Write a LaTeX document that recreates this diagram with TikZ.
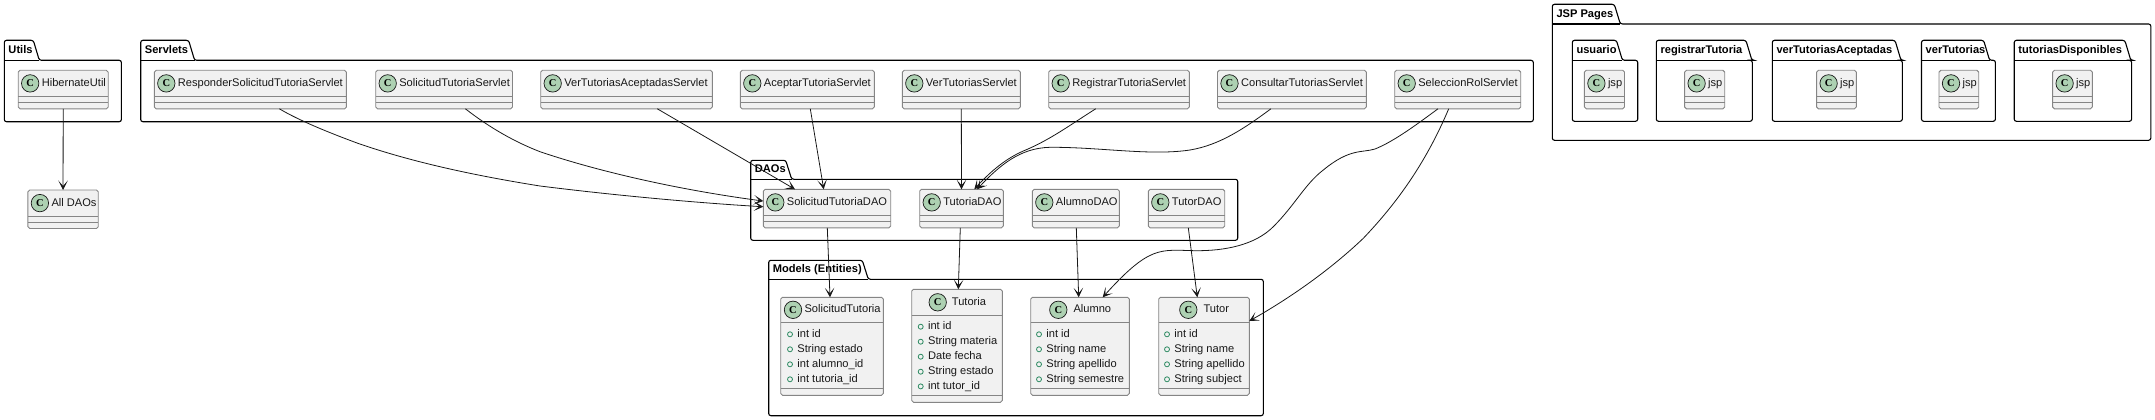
\documentclass[tikz,border=0pt]{standalone}
\usepackage{fontspec}
\setmainfont{Liberation Sans}
\newfontfamily\spotfont{Liberation Serif}
\usetikzlibrary{arrows.meta,positioning}

\definecolor{classfill}{HTML}{F1F1F1}
\definecolor{classline}{HTML}{858585}
\definecolor{spotfill}{HTML}{ADD1B2}
\definecolor{inkline}{HTML}{181818}
\definecolor{markline}{HTML}{2E8B63}

% id, left, right, top, header bottom, bottom, spot x, title x, title
\newcommand{\umlclass}[9]{
\node[class node, minimum width={(#3-#2)*1pt}, minimum height={(#6-#4)*1pt}] (#1) at ({(#2+#3)/2},{(#4+#6)/2}) {};
\draw[class line] (#2,#5) -- (#3,#5);
\draw[class line] (#2,{#6-6.5}) -- (#3,{#6-6.5});
\node[spot node] (#1 spot) at (#7,{(#4+#5)/2}) {C};
\node[title node] (#1 title) at (#8,{(#4+#5)/2}) {#9};
}
% id, left, right, top, title
\newcommand{\plainclass}[5]{\umlclass{#1}{#2}{#3}{#4}{#4+26.2}{#4+38.5}{#2+12}{#2+23.4}{#5}}
% id, mark x, y, text
\newcommand{\classmember}[4]{
\node[mark node] (#1 mark) at (#2,#3) {};
\node[member node, right=4.3pt of #1 mark] (#1) {#4};
}
% id, left, right, tab right, top, body top, bottom, title
\newcommand{\umlpackage}[8]{
\draw[package line] (#2,#6) -- (#2,#5) -- ({#4-6},#5) -- (#4,#6) -- (#3,#6) -- (#3,#7) -- (#2,#7) -- cycle;
\draw[package line, rounded corners=0pt] (#2,#6) -- (#4,#6);
\node[package title] (#1) at ({#2+4},{(#5+#6)/2}) {#8};
}

\begin{document}
\begin{tikzpicture}[x=1pt,y=-1pt,
    class node/.style={draw=classline,fill=classfill,line width=0.9pt,rounded corners=1.8pt,inner sep=0pt,outer sep=0pt},
    class line/.style={draw=classline,line width=0.9pt},
    spot node/.style={circle,draw=inkline,fill=spotfill,line width=0.7pt,minimum size=17.4pt,inner sep=0pt,font=\spotfont\fontsize{10.5}{12}\selectfont\bfseries},
    title node/.style={anchor=west,inner sep=0pt,text height=8.2pt,text depth=2.4pt,text=inkline,font=\fontsize{11.1}{13}\selectfont},
    member node/.style={inner sep=0pt,text height=8.2pt,text depth=2.4pt,text=inkline,font=\fontsize{11.1}{13}\selectfont},
    mark node/.style={circle,draw=markline,line width=0.8pt,minimum size=5pt,inner sep=0pt},
    package line/.style={draw=black,line width=1.1pt,rounded corners=2.2pt},
    package title/.style={anchor=west,inner sep=0pt,text height=8.2pt,text depth=2.4pt,font=\fontsize{11.1}{13}\selectfont\bfseries},
    dep/.style={->,draw=inkline,line width=0.8pt,>={Stealth[length=9.5pt,width=9.5pt,inset=5.5pt]}}]
\useasboundingbox (0,0) rectangle (2155,420);

\umlpackage{utils}{4.3}{121.4}{39.3}{40.3}{60.3}{121.7}{Utils}
\umlpackage{servlets}{140.7}{1533.3}{194.6}{40.3}{60.3}{121.7}{Servlets}
\umlpackage{daos}{750.7}{1237.7}{791.7}{160.3}{179.3}{240.3}{DAOs}
\umlpackage{models}{768.7}{1263.3}{868.3}{260.3}{279.3}{415.7}{Models (Entities)}
\umlpackage{jsppages}{1552.3}{2150.8}{1620.3}{4.3}{24}{140.3}{JSP Pages}
\umlpackage{usuario}{1572.3}{1637.7}{1622.4}{40.3}{60.3}{121.3}{usuario}
\umlpackage{registrar}{1656.3}{1752.3}{1751.9}{40.3}{60.3}{121.3}{registrarTutoria}
\umlpackage{aceptadas}{1772.3}{1902.3}{1901}{40.3}{60.3}{121.3}{verTutoriasAceptadas}
\umlpackage{vertut}{1921.5}{1995.4}{1989.6}{40.3}{60.3}{121.3}{verTutorias}
\umlpackage{disponibles}{2014.2}{2131.6}{2130.8}{40.3}{60.3}{121.3}{tutoriasDisponibles}

\plainclass{hibernate}{18.2}{108.2}{70.3}{HibernateUtil}
\plainclass{alldaos}{27.9}{98.2}{190}{All DAOs}

\plainclass{responderS}{154.3}{346.4}{70.3}{ResponderSolicitudTutoriaServlet}
\plainclass{solicitudS}{375.7}{512.5}{70.3}{SolicitudTutoriaServlet}
\plainclass{aceptadasS}{540.7}{712.3}{70.3}{VerTutoriasAceptadasServlet}
\plainclass{aceptarS}{740.3}{874.3}{70.3}{AceptarTutoriaServlet}
\plainclass{vertutS}{902.3}{1020.3}{70.3}{VerTutoriasServlet}
\plainclass{registrarS}{1048.7}{1189.3}{70.3}{RegistrarTutoriaServlet}
\plainclass{consultarS}{1217.5}{1366.3}{70.3}{ConsultarTutoriasServlet}
\plainclass{seleccionS}{1394.7}{1520.7}{70.3}{SeleccionRolServlet}

\plainclass{solicitudD}{763.3}{890.7}{189.3}{SolicitudTutoriaDAO}
\plainclass{tutoriaD}{919.7}{1003.3}{189.3}{TutoriaDAO}
\plainclass{alumnoD}{1032.3}{1119.3}{189.3}{AlumnoDAO}
\plainclass{tutorD}{1148.3}{1224.7}{189.3}{TutorDAO}

\plainclass{usuarioJ}{1584.4}{1624.5}{70.3}{jsp}
\plainclass{registrarJ}{1684.6}{1724.7}{70.3}{jsp}
\plainclass{aceptadasJ}{1816.6}{1856.3}{70.3}{jsp}
\plainclass{vertutJ}{1939}{1978.7}{70.3}{jsp}
\plainclass{disponiblesJ}{2052.6}{2092.3}{70.3}{jsp}

\umlclass{solicitud}{780.7}{883.3}{297.3}{322.3}{395.3}{793}{804.3}{SolicitudTutoria}
\classmember{sol1}{790}{334.3}{int id}
\classmember{sol2}{790}{349.3}{String estado}
\classmember{sol3}{790}{364.3}{int alumno\_id}
\classmember{sol4}{790}{379.3}{int tutoria\_id}

\umlclass{tutoria}{911.7}{1002.3}{289.3}{315.3}{402.3}{937.7}{951.7}{Tutoria}
\classmember{tut1}{920.7}{326.7}{int id}
\classmember{tut2}{920.7}{341.7}{String materia}
\classmember{tut3}{920.7}{356.7}{Date fecha}
\classmember{tut4}{920.7}{371.7}{String estado}
\classmember{tut5}{920.7}{386.4}{int tutor\_id}

\umlclass{alumno}{1030.7}{1129.3}{297.3}{322.3}{395.3}{1058.3}{1073.3}{Alumno}
\classmember{alu1}{1039}{334.3}{int id}
\classmember{alu2}{1039}{349.3}{String name}
\classmember{alu3}{1039}{364.3}{String apellido}
\classmember{alu4}{1039}{379.3}{String semestre}

\umlclass{tutor}{1158.7}{1249.3}{297.3}{322.3}{395.3}{1188.3}{1203.3}{Tutor}
\classmember{tur1}{1167}{334.3}{int id}
\classmember{tur2}{1167}{349.3}{String name}
\classmember{tur3}{1167}{364.3}{String apellido}
\classmember{tur4}{1167}{379.3}{String subject}

\draw[dep] (hibernate.south) -- (alldaos.north);

\draw[dep] ([xshift=29pt]responderS.south) .. controls (300,121) and (330,133) .. (357,143)
    .. controls (420,165) and (490,178) .. (540,186)
    .. controls (620,196) and (700,203) .. ([yshift=1.8pt]solicitudD.west);
\draw[dep] ([xshift=21.3pt]solicitudS.south) .. controls (490,128) and (515,142) .. (540,151.7)
    .. controls (600,172) and (680,190) .. ([yshift=7.5pt]solicitudD.west);
\draw[dep] ([xshift=30.8pt]aceptadasS.south) -- ([xshift=-32pt]solicitudD.north);
\draw[dep] ([xshift=3pt]aceptarS.south) -- ([xshift=-3.3pt]solicitudD.north);
\draw[dep] (vertutS.south) -- (tutoriaD.north);
\draw[dep] ([xshift=-23.3pt]registrarS.south) .. controls (1070,125) and (1050,140) .. (1023.3,151)
    .. controls (1005,159) and (990,172) .. ([xshift=12.8pt]tutoriaD.north);
\draw[dep] ([xshift=-21pt]consultarS.south) .. controls (1245,128) and (1220,145) .. (1190,150)
    .. controls (1150,156) and (1100,147) .. (1050,147.3)
    .. controls (1020,148) and (1000,165) .. ([xshift=15.5pt]tutoriaD.north);
\draw[dep] ([xshift=-19.7pt]seleccionS.south) .. controls (1420,122) and (1395,141) .. (1375,149)
    .. controls (1362,153) and (1350,148) .. (1323.3,170)
    .. controls (1305,184) and (1295,205) .. (1273.3,226.7)
    .. controls (1255,245) and (1225,251) .. (1195,250.7)
    .. controls (1160,250) and (1150,245) .. ([xshift=22.7pt]alumno.north);
\draw[dep] ([xshift=-9pt]seleccionS.south) .. controls (1425,165) and (1395,205) .. (1363.3,238.3)
    .. controls (1330,270) and (1290,298) .. ([yshift=25.3pt]tutor.east);

\draw[dep] ([xshift=0.3pt]solicitudD.south) -- ([xshift=-2pt]solicitud.north);
\draw[dep] ([xshift=-1.2pt]tutoriaD.south) -- ([xshift=1.3pt]tutoria.north);
\draw[dep] ([xshift=0.5pt]alumnoD.south) -- ([xshift=-1.3pt]alumno.north);
\draw[dep] ([xshift=1.8pt]tutorD.south) -- ([xshift=-6.7pt]tutor.north);

\end{tikzpicture}
\end{document}
